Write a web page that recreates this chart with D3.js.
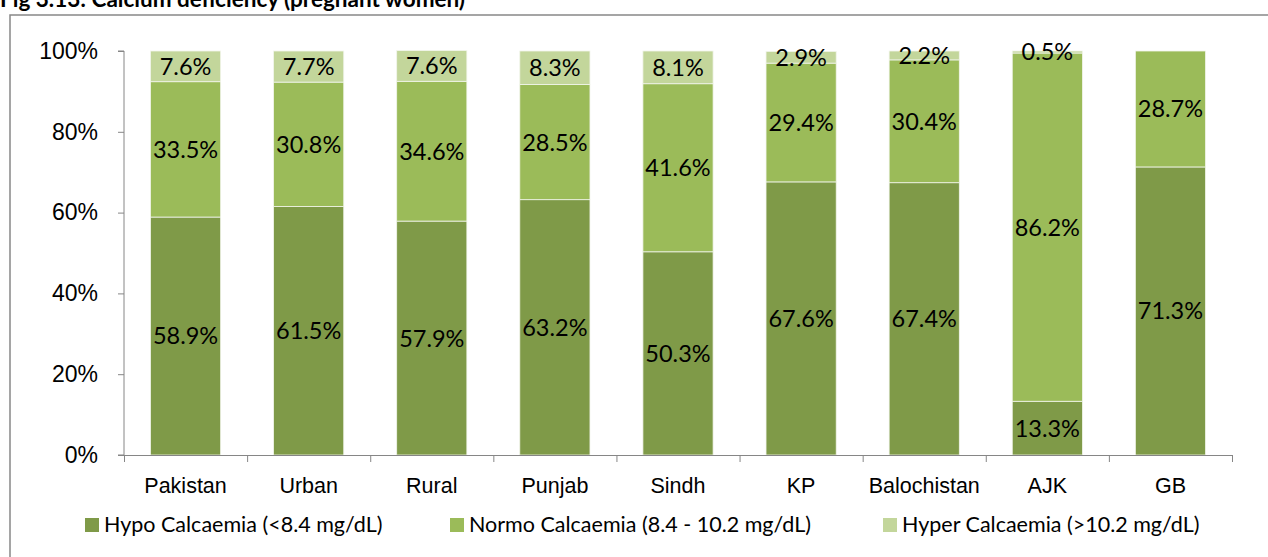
<!DOCTYPE html>
<html>
<head>
<meta charset="utf-8">
<script src="https://cdn.jsdelivr.net/npm/d3@7"></script>
<style>
  body { margin: 0; background: #fff; }
  svg { display: block; font-family: Lato, "Noto Sans", sans-serif; }
</style>
</head>
<body>
<svg id="chart" width="1268" height="557"></svg>
<script>
// Data
const categories = ["Pakistan", "Urban", "Rural", "Punjab", "Sindh", "KP", "Balochistan", "AJK", "GB"];
const hypo  = [58.9, 61.5, 57.9, 63.2, 50.3, 67.6, 67.4, 13.3, 71.3];
const normo = [33.5, 30.8, 34.6, 28.5, 41.6, 29.4, 30.4, 86.2, 28.7];
const hyper = [7.6, 7.7, 7.6, 8.3, 8.1, 2.9, 2.2, 0.5, 0];
const seriesNames = ["Hypo Calcaemia (<8.4 mg/dL)", "Normo Calcaemia (8.4 - 10.2 mg/dL)", "Hyper Calcaemia (>10.2 mg/dL)"];
const yTicks = [0, 20, 40, 60, 80, 100];

const colors = ["#7f9a48", "#9bbb59", "#c3d69b"];
const keys = ["hypo", "normo", "hyper"];

const table = categories.map((c, i) => ({ cat: c, hypo: hypo[i], normo: normo[i], hyper: hyper[i] }));
const stacked = d3.stack().keys(keys)(table);

// Layout
const margin = { top: 51, left: 124, right: 36, bottom: 102 };
const width = 1268 - margin.left - margin.right;
const height = 557 - margin.top - margin.bottom;

const svg = d3.select("#chart");

// title (cut at the top of the picture)
svg.append("text")
  .attr("x", 0)
  .attr("y", 7)
  .attr("font-size", 22.5)
  .attr("font-weight", "bold")
  .attr("fill", "#000")
  .text("Fig 3.13: Calcium deficiency (pregnant women)");

// chart frame
svg.append("rect")
  .attr("x", 10)
  .attr("y", 15)
  .attr("width", 1300)
  .attr("height", 600)
  .attr("fill", "none")
  .attr("stroke", "#888")
  .attr("stroke-width", 1.5);

const g = svg.append("g")
  .attr("transform", `translate(${margin.left},${margin.top})`);

// Scales
const x = d3.scaleBand()
  .domain(categories)
  .range([0, width])
  .paddingInner(0.43)
  .paddingOuter(0.215);

const y = d3.scaleLinear()
  .domain([0, 100])
  .range([height, 0]);

// Bars
const layer = g.selectAll(".layer")
  .data(stacked)
  .enter()
  .append("g")
  .attr("class", "layer")
  .attr("fill", (d, i) => colors[i]);

layer.selectAll("rect")
  .data(d => d.filter(p => p[1] - p[0] > 0))
  .enter()
  .append("rect")
  .attr("x", d => x(d.data.cat))
  .attr("y", d => y(d[1]))
  .attr("width", x.bandwidth())
  .attr("height", d => y(d[0]) - y(d[1]))
  .attr("stroke", "#f2f5ec")
  .attr("stroke-width", 0.8);

// Data labels
layer.selectAll("text")
  .data(d => d.filter(p => p[1] - p[0] > 0))
  .enter()
  .append("text")
  .attr("x", d => x(d.data.cat) + x.bandwidth() / 2)
  .attr("y", d => (y(d[0]) + y(d[1])) / 2)
  .attr("dy", "0.36em")
  .attr("text-anchor", "middle")
  .attr("font-size", 23.5)
  .attr("fill", "#000")
  .text(d => (d[1] - d[0]).toFixed(1) + "%");

// Y axis
const yAxis = g.append("g")
  .call(d3.axisLeft(y).tickValues(yTicks).tickFormat(d => d + "%").tickSize(6).tickPadding(20));
yAxis.selectAll("text").attr("font-size", 23).attr("fill", "#000").attr("font-family", null);
yAxis.selectAll("line, path").attr("stroke", "#868686");
yAxis.select(".domain").attr("d", `M-6,0H0V${height}H-6`);

// X axis: boundary tick marks plus category labels
const xb = d3.scaleLinear().domain([0, categories.length]).range([0, width]);
const xTickAxis = g.append("g")
  .attr("transform", `translate(0,${height})`)
  .call(d3.axisBottom(xb).ticks(categories.length).tickFormat("").tickSize(7).tickSizeOuter(7));
xTickAxis.selectAll("line, path").attr("stroke", "#868686");

const xLabels = g.append("g")
  .attr("transform", `translate(0,${height})`)
  .call(d3.axisBottom(x).tickSize(0).tickPadding(23));
xLabels.select(".domain").remove();
xLabels.selectAll("text").attr("font-size", 21.5).attr("fill", "#000").attr("font-family", null);

// Legend
const legendX = [85, 450, 883];
const legend = svg.append("g")
  .selectAll("g")
  .data(seriesNames)
  .enter()
  .append("g")
  .attr("transform", (d, i) => `translate(${legendX[i]},518)`);

legend.append("rect")
  .attr("width", 14)
  .attr("height", 14)
  .attr("fill", (d, i) => colors[i]);

legend.append("text")
  .attr("x", 19)
  .attr("y", 14)
  .attr("font-size", 21.5)
  .attr("fill", "#000")
  .text(d => d);
</script>
</body>
</html>
